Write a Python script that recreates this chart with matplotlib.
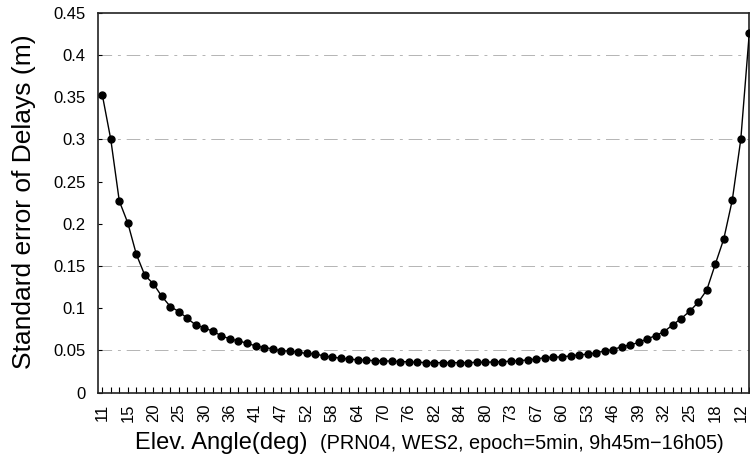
import numpy as np
import matplotlib
matplotlib.use('Agg')
import matplotlib.pyplot as plt

plt.rcParams['font.family'] = ['Liberation Sans', 'DejaVu Sans']

# elevation angle labels (every 3rd epoch, rising then setting)
elev_labels = ['11', '15', '20', '25', '30', '36', '41', '47', '52', '58', '64', '70', '76',
               '82', '84', '80', '73', '67', '60', '53', '46', '39', '32', '25', '18', '12']

# standard error of delays per 5-min epoch (m)
std_err = [0.353, 0.300, 0.227, 0.201, 0.164, 0.139, 0.129, 0.114, 0.102, 0.096,
           0.088, 0.080, 0.077, 0.0725, 0.0675, 0.0635, 0.0615, 0.0585, 0.0555, 0.0535,
           0.052, 0.0495, 0.0495, 0.048, 0.0465, 0.046, 0.0436, 0.042, 0.041, 0.0397,
           0.039, 0.0385, 0.038, 0.0378, 0.0373, 0.0368, 0.0366, 0.036, 0.0357, 0.0356,
           0.0356, 0.0356, 0.0356, 0.0356, 0.036, 0.036, 0.0365, 0.0368, 0.0373, 0.038,
           0.0388, 0.040, 0.0415, 0.042, 0.0425, 0.0436, 0.0448, 0.0456, 0.0472, 0.0495,
           0.051, 0.0545, 0.0565, 0.0595, 0.0637, 0.0676, 0.0724, 0.0803, 0.0878, 0.0965,
           0.107, 0.1215, 0.152, 0.182, 0.228, 0.300, 0.426]

# faint grid remnants visible in the scan
grid_levels = [0.05, 0.15, 0.3, 0.4]

y_ticks = [0, 0.05, 0.1, 0.15, 0.2, 0.25, 0.3, 0.35, 0.4, 0.45]

fig = plt.figure(figsize=(7.5, 4.62), dpi=100)
ax = fig.add_axes([98 / 750, (462 - 392.7) / 462, (749.3 - 98) / 750, 380 / 462])

x = np.arange(len(std_err))

for lv in grid_levels:
    ax.axhline(lv, color='#b4b4b4', linewidth=0.7, linestyle=(0, (14, 6, 3, 6)), zorder=1)

ax.plot(x, std_err, color='black', linewidth=1.0, marker='o', markersize=5,
        markerfacecolor='black', markeredgecolor='black', zorder=3)

ax.set_xlim(-0.5, 75.75)
ax.set_ylim(0, 0.45)

ax.set_xticks(x[::3])
ax.set_xticklabels(elev_labels, rotation=90, fontsize=12)
ax.set_xticks(x, minor=True)
ax.set_yticks(y_ticks)
ax.set_yticklabels([f'{v:g}' for v in y_ticks], fontsize=12)

ax.tick_params(axis='x', which='both', direction='in', length=4, width=0.8, pad=8)
ax.tick_params(axis='y', direction='in', length=3, width=0.8, pad=9)
for sp in ax.spines.values():
    sp.set_linewidth(1.2)
    sp.set_color('#222222')

# axis titles
fig.text(0.032, 0.563, 'Standard error of Delays (m)', rotation=90,
         ha='center', va='center', fontsize=19)
fig.text(135 / 750, 13 / 462, 'Elev. Angle(deg)', ha='left', va='baseline', fontsize=17)
fig.text(320 / 750, 13 / 462, '(PRN04, WES2, epoch=5min, 9h45m\u221216h05)',
         ha='left', va='baseline', fontsize=14.3)

fig.savefig('out.png', dpi=100)
